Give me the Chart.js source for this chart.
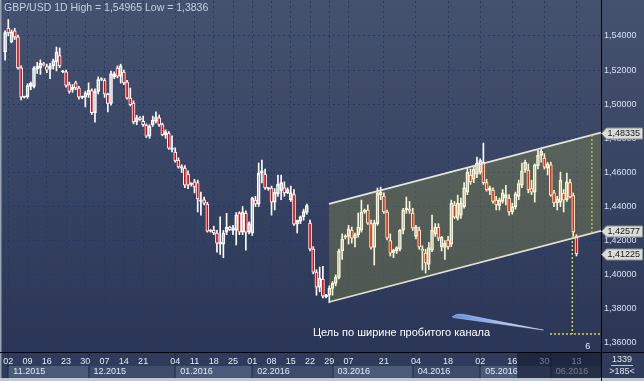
<!DOCTYPE html>
<html><head><meta charset="utf-8">
<script src="https://cdn.jsdelivr.net/npm/chart.js@4/dist/chart.umd.min.js"></script>
<style>html,body{margin:0;padding:0;background:#2e3a58;overflow:hidden}#wrap{width:644px;height:381px;position:relative}</style>
</head><body><div id="wrap"><canvas id="c" width="644" height="381"></canvas></div>
<script>
// ---- data (daily bars, index 0 = 31.10.2015) ----
const opens  = [1.5306,1.5447,1.5365,1.5430,1.5395,1.5213,1.5040,1.5045,1.5105,1.5105,1.5205,1.5215,1.5238,1.5220,1.5205,1.5225,1.5250,1.5285,1.5190,1.5190,
1.5115,1.5085,1.5125,1.5095,1.5040,1.5042,1.5055,1.5080,1.4950,1.5075,1.5145,1.5140,1.5058,1.5005,1.5160,1.5212,1.5165,1.5189,1.5130,1.5036,
1.5007,1.4896,1.4920,1.4900,1.4878,1.4812,1.4880,1.4900,1.4920,1.4880,1.4820,1.4830,1.4735,1.4720,1.4673,1.4625,1.4626,1.4590,1.4530,1.4545,
1.4540,1.4432,1.4440,1.4415,1.4256,1.4262,1.4245,1.4180,1.4180,1.4250,1.4280,1.4260,1.4262,1.4360,1.4250,1.4362,1.4250,1.4245,1.4438,1.4415,
1.4596,1.4590,1.4505,1.4509,1.4426,1.4475,1.4495,1.4510,1.4480,1.4440,1.4470,1.4297,1.4315,1.4340,1.4365,1.4303,1.4150,1.4016,1.3928,1.3975,
1.3870,1.3880,1.3920,1.3950,1.3985,1.4140,1.4220,1.4225,1.4262,1.4215,1.4235,1.4262,1.4368,1.4380,1.4300,1.4160,1.4300,1.4470,1.4462,1.4368,
1.4200,1.4130,1.4140,1.4150,1.4262,1.4380,1.4385,1.4362,1.4225,1.4262,1.4150,1.4127,1.4060,1.4145,1.4240,1.4280,1.4163,1.4160,1.4204,1.4180,
1.4409,1.4330,1.4350,1.4400,1.4485,1.4585,1.4560,1.4590,1.4600,1.4660,1.4540,1.4495,1.4497,1.4438,1.4405,1.4430,1.4450,1.4450,1.4368,1.4400,
1.4460,1.4525,1.4614,1.4614,1.4505,1.4485,1.4640,1.4700,1.4684,1.4625,1.4644,1.4480,1.4421,1.4426,1.4479,1.4440,1.4540,1.4465,1.4227];
const highs  = [1.5430,1.54965,1.5435,1.5445,1.5405,1.5225,1.5048,1.5120,1.5130,1.5220,1.5245,1.5260,1.5245,1.5235,1.5240,1.5265,1.5335,1.5330,1.5198,1.5200,
1.5130,1.5115,1.5135,1.5105,1.5048,1.5075,1.5125,1.5090,1.5090,1.5160,1.5155,1.5150,1.5065,1.5195,1.5190,1.5225,1.5235,1.5200,1.5140,1.5095,
1.5020,1.4935,1.4928,1.4930,1.4885,1.4880,1.4930,1.4955,1.4937,1.4890,1.4850,1.4840,1.4815,1.4745,1.4685,1.4645,1.4640,1.4610,1.4540,1.4560,
1.4555,1.4485,1.4455,1.4425,1.4265,1.4285,1.4260,1.4340,1.4260,1.4360,1.4285,1.4290,1.4365,1.4370,1.4400,1.4375,1.4310,1.4455,1.4460,1.4655,
1.4673,1.4620,1.4512,1.4520,1.4505,1.4585,1.4585,1.4545,1.4510,1.4520,1.4500,1.4310,1.4345,1.4385,1.4415,1.4320,1.4165,1.4030,1.4045,1.4050,
1.3885,1.3935,1.3960,1.4000,1.4150,1.4240,1.4235,1.4290,1.4280,1.4245,1.4362,1.4438,1.4385,1.4410,1.4320,1.4320,1.4509,1.4514,1.4480,1.4380,
1.4240,1.4150,1.4165,1.4265,1.4390,1.4456,1.4430,1.4390,1.4290,1.4280,1.4170,1.4150,1.4190,1.4350,1.4300,1.4300,1.4225,1.4200,1.4225,1.4438,
1.4430,1.4467,1.4450,1.4540,1.4626,1.4620,1.4635,1.4690,1.4680,1.4772,1.4560,1.4520,1.4510,1.4460,1.4450,1.4500,1.4525,1.4470,1.4420,1.4485,
1.4555,1.4655,1.4673,1.4650,1.4555,1.4650,1.4731,1.4743,1.4710,1.4660,1.4660,1.4495,1.4460,1.4602,1.4500,1.4596,1.4560,1.4480,1.4235];
const lows   = [1.5259,1.5400,1.5360,1.5380,1.5205,1.5025,1.5036,1.5035,1.5085,1.5095,1.5180,1.5175,1.5225,1.5185,1.5150,1.5205,1.5195,1.5215,1.5185,1.5100,
1.5065,1.5070,1.5085,1.5030,1.5032,1.4984,1.5040,1.4940,1.4895,1.5060,1.5138,1.5040,1.4955,1.4995,1.5150,1.5155,1.5124,1.5115,1.5030,1.4990,
1.4885,1.4880,1.4905,1.4870,1.4805,1.4800,1.4870,1.4890,1.4870,1.4815,1.4800,1.4735,1.4720,1.4660,1.4625,1.4600,1.4510,1.4505,1.4520,1.4480,
1.4368,1.4350,1.4410,1.4250,1.4250,1.4235,1.4133,1.4120,1.4100,1.4235,1.4260,1.4235,1.4175,1.4235,1.4235,1.4145,1.4240,1.4230,1.4400,1.4400,
1.4538,1.4500,1.4495,1.4350,1.4380,1.4460,1.4440,1.4460,1.4475,1.4430,1.4290,1.4245,1.4300,1.4320,1.4355,1.4140,1.4005,1.3880,1.3900,1.3865,
1.3865,1.3836,1.3880,1.3935,1.3975,1.4090,1.4210,1.4180,1.4186,1.4163,1.4220,1.4250,1.4360,1.4295,1.4150,1.4057,1.4290,1.4440,1.4360,1.4205,
1.4110,1.4100,1.4125,1.4140,1.4240,1.4360,1.4360,1.4260,1.4210,1.4150,1.4028,1.4010,1.4030,1.4135,1.4225,1.4200,1.4140,1.4090,1.4150,1.4165,
1.4330,1.4320,1.4330,1.4390,1.4470,1.4530,1.4540,1.4570,1.4590,1.4530,1.4490,1.4470,1.4420,1.4380,1.4380,1.4420,1.4410,1.4350,1.4355,1.4385,
1.4440,1.4510,1.4600,1.4480,1.4470,1.4426,1.4620,1.4660,1.4620,1.4585,1.4460,1.4400,1.4380,1.4400,1.4368,1.4430,1.4450,1.4225,1.4110];
const closes = [1.5420,1.5418,1.5423,1.5395,1.5213,1.5042,1.5046,1.5110,1.5122,1.5212,1.5222,1.5240,1.5232,1.5200,1.5225,1.5255,1.5305,1.5225,1.5195,1.5110,
1.5075,1.5100,1.5095,1.5042,1.5045,1.5066,1.5083,1.4950,1.5075,1.5145,1.5150,1.5060,1.5005,1.5180,1.5178,1.5165,1.5225,1.5125,1.5036,1.4998,
1.4896,1.4920,1.4910,1.4880,1.4812,1.4870,1.4905,1.4925,1.4880,1.4820,1.4840,1.4743,1.4745,1.4667,1.4632,1.4635,1.4526,1.4525,1.4535,1.4515,
1.4445,1.4440,1.4420,1.4256,1.4262,1.4245,1.4186,1.4190,1.4245,1.4280,1.4265,1.4275,1.4350,1.4250,1.4368,1.4250,1.4300,1.4450,1.4415,1.4596,
1.4610,1.4509,1.4510,1.4426,1.4485,1.4530,1.4540,1.4480,1.4500,1.4480,1.4297,1.4320,1.4340,1.4370,1.4405,1.4150,1.4016,1.3928,1.3981,1.3875,
1.3880,1.3920,1.3950,1.3985,1.4140,1.4210,1.4228,1.4270,1.4215,1.4235,1.4280,1.4368,1.4380,1.4303,1.4160,1.4305,1.4479,1.4485,1.4368,1.4215,
1.4127,1.4145,1.4160,1.4262,1.4380,1.4392,1.4375,1.4274,1.4280,1.4163,1.4140,1.4069,1.4160,1.4262,1.4280,1.4215,1.4221,1.4185,1.4163,1.4421,
1.4338,1.4421,1.4420,1.4510,1.4600,1.4545,1.4620,1.4655,1.4670,1.4540,1.4497,1.4510,1.4430,1.4410,1.4440,1.4480,1.4470,1.4368,1.4400,1.4475,
1.4535,1.4610,1.4660,1.4497,1.4485,1.4645,1.4700,1.4725,1.4631,1.4650,1.4467,1.4421,1.4445,1.4555,1.4438,1.4545,1.4456,1.4251,1.41225];

const tickIdx = [1,7,13,19,25,31,37,43,53,59,65,71,77,83,89,95,101,107,118,128,138,148,158,168,178];
const tickLbl = ['02','09','16','23','30','07','14','21','04','11','18','25','01','08','15','22','29','07','21','04','18','02','16','30','13'];
const monthIdx = [1,26,53,77,102,127,148,170];
const monthLbl = ['11.2015','12.2015','01.2016','02.2016','03.2016','04.2016','05.2016','06.2016'];
const yTicks = [1.36,1.38,1.40,1.42,1.44,1.46,1.48,1.50,1.52,1.54];
const chanX = [100.9,185.64];
const chanUpper = [1.44158,1.48335];
const chanLower = [1.38400,1.42577];
const widthMarkX = 182.8, widthMarkY = [1.48195,1.42437];
const breakX = 176.7, breakY = 1.4222, targetY = 1.36528, targetStartX = 169.75;
const priceTags = [1.48335,1.42577,1.41225];
const noteText = 'Цель по ширине пробитого канала';
const notePos = [95.9,1.36587];
const arrowPts = [[139.3,1.3754],[140.7,1.3768],[142.6,1.3768],[167.7,1.3676],[139.6,1.3749]];
const titleText = 'GBP/USD 1D High = 1,54965 Low = 1,3836';
const cornerTop = '1339', cornerBottom = '>185<';
const smallMark = ['6',180.7,1.35765];
const dimFromX = 159.5;
// ---------------------------------------------

const idx = opens.map((_, i) => i);
const bodyData = idx.map(i => ({x: i, y: [opens[i], closes[i]]}));
const upWick = idx.map(i => ({x: i, y: [Math.max(opens[i], closes[i]), highs[i]]}));
const dnWick = idx.map(i => ({x: i, y: [lows[i], Math.min(opens[i], closes[i])]}));

const FONT = '"Liberation Sans", Arial, sans-serif';
Chart.defaults.font.family = FONT;

const decor = {
  id: 'decor',
  beforeDraw(chart) {
    const c = chart.ctx, xs = chart.scales.x, a = chart.chartArea;
    c.save();
    const g = c.createLinearGradient(0, 0, 0, a.bottom);
    g.addColorStop(0, '#45526f');
    g.addColorStop(1, '#2b3657');
    c.fillStyle = g; c.fillRect(0, 0, 644, a.bottom);
    c.fillStyle = '#2e3b5a'; c.fillRect(0, a.bottom, 644, 381 - a.bottom);
    for (let k = 0; k < monthIdx.length; k++) {
      const x0 = xs.getPixelForValue(monthIdx[k]);
      const x1 = k + 1 < monthIdx.length ? xs.getPixelForValue(monthIdx[k + 1]) : a.right;
      c.fillStyle = k % 2 === 0 ? '#4a5a79' : '#3e4d6c';
      c.fillRect(x0, 366, x1 - x0, 12);
      c.fillStyle = '#1e2a46';
      c.fillRect(Math.round(x0) - 0.5, a.bottom, 1, 381 - a.bottom);
    }
    c.fillStyle = '#9aa3b2'; c.fillRect(0, 0, 1.5, 381);
    c.fillStyle = '#c3c8d0'; c.fillRect(0, 378, 644, 3);
    c.restore();
  },
  afterDraw(chart) {
    const c = chart.ctx, xs = chart.scales.x, ys = chart.scales.y, a = chart.chartArea;
    c.save();
    c.font = '9px ' + FONT; c.textBaseline = 'middle'; c.textAlign = 'left';
    c.fillStyle = '#e4eaf4';
    monthLbl.forEach((t, k) => c.fillText(t, xs.getPixelForValue(monthIdx[k]) + 5, 372));
    const dx = xs.getPixelForValue(dimFromX);
    c.fillStyle = 'rgba(18,24,44,0.55)';
    c.fillRect(dx, a.bottom + 1, a.right - dx, 378 - a.bottom - 1);
    c.fillStyle = '#000000';
    c.fillRect(a.right, 0, 1, 381);
    c.fillRect(0, a.bottom, 644, 1);
    c.fillStyle = '#c6d0e2'; c.font = '10.5px ' + FONT;
    c.fillText(titleText, 4, 8);
    const p = arrowPts.map(q => [xs.getPixelForValue(q[0]), ys.getPixelForValue(q[1])]);
    const lg = c.createLinearGradient(p[0][0], 0, p[3][0], 0);
    lg.addColorStop(0, '#5d8fe0'); lg.addColorStop(1, '#dfe8f8');
    c.beginPath(); c.moveTo(p[0][0], p[0][1]);
    for (let k = 1; k < p.length; k++) c.lineTo(p[k][0], p[k][1]);
    c.closePath(); c.fillStyle = lg; c.fill();
    c.strokeStyle = 'rgba(200,220,255,0.8)'; c.lineWidth = 0.6; c.stroke();
    c.font = '11px ' + FONT; c.fillStyle = '#ffffff';
    c.fillText(noteText, xs.getPixelForValue(notePos[0]), ys.getPixelForValue(notePos[1]));
    c.font = '9px ' + FONT; c.fillStyle = '#e4eaf4';
    c.fillText(smallMark[0], xs.getPixelForValue(smallMark[1]), ys.getPixelForValue(smallMark[2]));
    priceTags.forEach(v => {
      const y = Math.round(ys.getPixelForValue(v)) + 0.5;
      const x0 = a.right + 0.5;
      c.beginPath();
      c.moveTo(x0, y); c.lineTo(x0 + 5, y - 5.5); c.lineTo(642.5, y - 5.5);
      c.lineTo(642.5, y + 5.5); c.lineTo(x0 + 5, y + 5.5); c.closePath();
      c.fillStyle = '#dcdcd3'; c.fill();
      c.strokeStyle = '#8a929c'; c.lineWidth = 1; c.stroke();
      c.fillStyle = '#101828'; c.font = '9px ' + FONT; c.textAlign = 'left';
      c.fillText(v.toFixed(5).replace('.', ','), x0 + 6, y + 0.5);
    });
    c.textAlign = 'center'; c.fillStyle = '#dfe5f0'; c.font = '9px ' + FONT;
    c.fillText(cornerTop, 622, 360);
    c.fillText(cornerBottom, 622, 372);
    c.fillStyle = '#b8c2d4'; c.fillRect(611, 365, 22, 1);
    c.restore();
  }
};

const lineBase = {type: 'line', pointRadius: 0, pointHoverRadius: 0, fill: false, tension: 0};

new Chart(document.getElementById('c'), {
  type: 'bar',
  data: {
    datasets: [
      Object.assign({}, lineBase, {data: [{x: breakX, y: breakY}, {x: breakX, y: targetY}], borderColor: '#f2ea1a', borderWidth: 1.3, borderDash: [2, 2], order: 0}),
      Object.assign({}, lineBase, {data: [{x: targetStartX, y: targetY}, {x: chanX[1], y: targetY}], borderColor: '#e0d838', borderWidth: 1.3, borderDash: [2, 2], order: 0}),
      Object.assign({}, lineBase, {data: [{x: widthMarkX, y: widthMarkY[0]}, {x: widthMarkX, y: widthMarkY[1]}], borderColor: '#c6c83a', borderWidth: 1.3, borderDash: [2, 2], order: 0}),
      Object.assign({}, lineBase, {data: chanX.map((x, k) => ({x, y: chanUpper[k]})), fill: '+1', backgroundColor: 'rgba(210,206,50,0.2)', borderColor: '#e6e6de', borderWidth: 1.6, order: 1}),
      Object.assign({}, lineBase, {data: chanX.map((x, k) => ({x, y: chanLower[k]})), borderColor: '#e6e6de', borderWidth: 1.6, order: 1}),
      {type: 'bar', data: bodyData, grouped: false, barThickness: 3, minBarLength: 1, borderWidth: 1, borderSkipped: false,
       borderColor: '#ffffff', backgroundColor: ctx => (closes[ctx.dataIndex] >= opens[ctx.dataIndex] ? 'rgba(0,0,0,0)' : '#f20000'), order: 2},
      {type: 'bar', data: upWick, grouped: false, barThickness: 1, borderWidth: 0, backgroundColor: '#ffffff', order: 3},
      {type: 'bar', data: dnWick, grouped: false, barThickness: 1, borderWidth: 0, backgroundColor: '#ffffff', order: 3}
    ]
  },
  options: {
    responsive: false, animation: false, devicePixelRatio: 1, events: [],
    layout: {padding: {left: 3, top: 1, right: 0, bottom: 0}},
    plugins: {legend: {display: false}, tooltip: {enabled: false}, title: {display: false}},
    scales: {
      x: {
        type: 'linear', min: -0.654, max: 185.64, offset: false,
        afterBuildTicks: s => { s.ticks = tickIdx.map(v => ({value: v})); },
        afterFit: s => { s.height = 29; s.paddingLeft = 0; s.paddingRight = 0; },
        ticks: {autoSkip: false, maxRotation: 0, minRotation: 0, padding: 4, color: '#e4eaf4', font: {size: 9},
          callback: v => { const k = tickIdx.indexOf(v); return k >= 0 ? tickLbl[k] : ''; }},
        grid: {offset: false, drawTicks: false, color: '#1d3a6c', lineWidth: 1},
        border: {display: false, dash: [2, 3]}
      },
      y: {
        position: 'right', min: 1.354723, max: 1.560521, beginAtZero: false,
        afterBuildTicks: s => { s.ticks = yTicks.map(v => ({value: v})); },
        afterFit: s => { s.width = 43; s.paddingTop = 0; s.paddingBottom = 0; },
        ticks: {padding: 3, color: '#d6e0f0', font: {size: 9}, callback: v => v.toFixed(5).replace('.', ',')},
        grid: {drawTicks: false, color: '#1d3a6c', lineWidth: 1},
        border: {display: false, dash: [2, 3]}
      }
    }
  },
  plugins: [decor]
});
</script></body></html>
